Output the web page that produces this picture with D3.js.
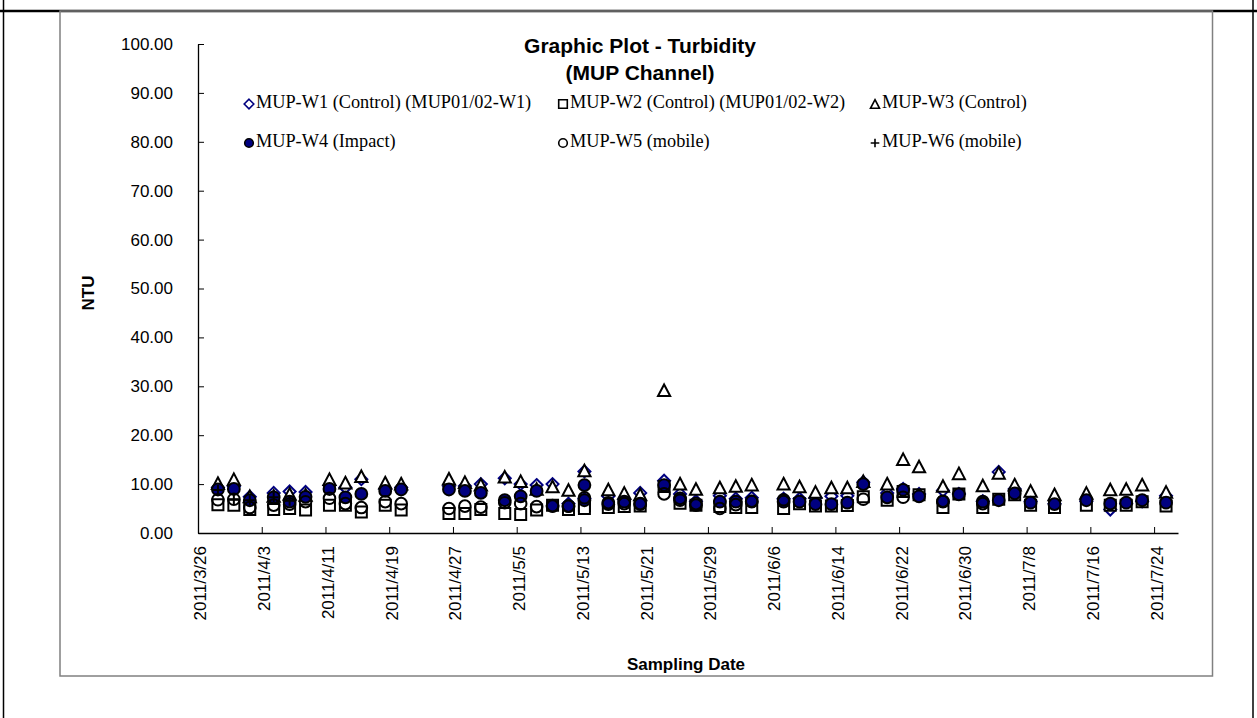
<!DOCTYPE html>
<html><head><meta charset="utf-8">
<script src="https://cdn.jsdelivr.net/npm/d3@7"></script>
<style>body{margin:0;background:#fff}svg{display:block}</style>
</head><body>
<svg id="c" width="1257" height="718"></svg>
<script>
// ---------- data ----------
const dates = ["2011-03-28","2011-03-30","2011-04-01","2011-04-04","2011-04-06","2011-04-08","2011-04-11","2011-04-13","2011-04-15","2011-04-18","2011-04-20","2011-04-26","2011-04-28","2011-04-30","2011-05-03","2011-05-05","2011-05-07","2011-05-09","2011-05-11","2011-05-13","2011-05-13","2011-05-16","2011-05-18","2011-05-20","2011-05-23","2011-05-25","2011-05-27","2011-05-30","2011-06-01","2011-06-03","2011-06-07","2011-06-09","2011-06-11","2011-06-13","2011-06-15","2011-06-17","2011-06-20","2011-06-22","2011-06-24","2011-06-27","2011-06-29","2011-07-02","2011-07-04","2011-07-06","2011-07-08","2011-07-11","2011-07-15","2011-07-18","2011-07-20","2011-07-22","2011-07-25"];
const w1 = [9.3,9.5,7.4,8.2,8.5,8.4,9.7,9.3,11.0,9.0,9.3,9.6,9.6,10.0,11.2,10.0,9.8,10.0,6.0,12.6,7.0,7.5,6.8,8.2,10.7,8.0,6.5,7.6,7.0,7.2,7.0,7.0,7.2,7.5,7.6,10.4,8.2,9.0,8.0,8.7,8.0,6.5,12.5,9.0,6.5,6.0,6.5,4.8,6.0,6.5,7.6];
const w2 = [5.8,5.7,4.8,4.8,5.0,4.7,5.7,5.7,4.3,5.7,4.7,4.0,4.0,4.8,4.0,3.8,4.7,5.7,4.8,5.6,5.0,5.2,5.4,5.5,9.5,6.1,5.7,5.4,5.2,5.2,5.0,6.0,5.5,5.5,5.6,7.4,6.7,8.5,7.8,5.2,8.0,5.2,6.9,7.8,5.7,5.2,5.7,5.7,5.7,6.4,5.5];
const w3 = [10.2,11.0,7.5,7.6,8.0,7.8,11.0,10.3,11.6,10.3,10.1,11.1,10.4,9.9,11.5,10.6,9.0,9.5,8.8,12.8,null,8.9,8.2,7.9,29.2,10.1,9.0,9.3,9.6,9.9,10.1,9.5,8.4,9.3,9.3,10.6,10.1,15.1,13.6,9.6,12.2,9.7,12.3,9.9,8.6,7.9,8.2,8.9,9.0,9.9,8.4];
const w4 = [8.9,9.0,6.7,7.3,6.4,7.4,9.0,7.3,8.0,8.6,8.9,8.9,8.6,8.2,6.7,7.5,8.6,5.5,5.5,9.8,6.7,5.9,6.4,5.9,9.8,7.1,5.7,6.4,6.4,6.4,6.4,6.4,5.9,5.9,6.2,10.0,7.3,8.8,7.5,6.4,7.9,6.4,6.7,8.1,6.2,5.9,6.7,6.0,6.2,6.7,6.2];
const w5 = [6.8,6.9,5.2,5.7,5.9,6.4,7.1,6.0,5.2,6.4,6.0,5.0,5.5,5.3,6.2,6.0,5.4,5.6,5.5,7.2,null,6.2,6.0,6.0,8.0,6.7,6.0,5.0,5.8,6.5,6.8,null,null,null,null,6.9,null,7.3,null,6.5,null,6.0,null,null,null,null,null,null,null,null,null];
const w6 = [8.8,6.9,6.7,7.3,6.6,null,null,null,null,null,null,null,null,null,null,null,null,null,null,null,null,null,null,null,null,null,null,null,null,null,null,null,null,null,null,null,null,null,null,null,null,null,null,null,null,null,null,null,null,null,null];
const seriesNames = ["MUP-W1 (Control) (MUP01/02-W1)","MUP-W2 (Control) (MUP01/02-W2)","MUP-W3 (Control)","MUP-W4 (Impact)","MUP-W5 (mobile)","MUP-W6 (mobile)"];
const yTicks = [0,10,20,30,40,50,60,70,80,90,100];
const xTickLabels = ["2011/3/26","2011/4/3","2011/4/11","2011/4/19","2011/4/27","2011/5/5","2011/5/13","2011/5/21","2011/5/29","2011/6/6","2011/6/14","2011/6/22","2011/6/30","2011/7/8","2011/7/16","2011/7/24"];
const titleLines = ["Graphic Plot - Turbidity","(MUP Channel)"];

// ---------- setup ----------
const svg = d3.select("#c");
const parse = d3.utcParse("%Y-%m-%d");
const parseTick = d3.utcParse("%Y/%-m/%-d");
const SANS = "'Liberation Sans', Arial, sans-serif";
const SERIF = "'Liberation Serif', 'Times New Roman', serif";

// outer frame lines
svg.append("line").attr("x1",0).attr("x2",1257).attr("y1",11).attr("y2",11).attr("stroke","#000").attr("stroke-width",2.5);
svg.append("line").attr("x1",3.5).attr("x2",3.5).attr("y1",0).attr("y2",718).attr("stroke","#000").attr("stroke-width",1.5);
svg.append("line").attr("x1",1253).attr("x2",1253).attr("y1",0).attr("y2",718).attr("stroke","#000").attr("stroke-width",1.5);
// chart area box
svg.append("rect").attr("x",60).attr("y",11).attr("width",1152.5).attr("height",665)
  .attr("fill","none").attr("stroke","#808080").attr("stroke-width",1.5);

const x = d3.scaleUtc().domain([parse("2011-03-26"), parse("2011-07-27")]).range([198,1178]);
const y = d3.scaleLinear().domain([0,100]).range([533,44]);
const halfDay = 12*3600*1000;
const px = d => x(new Date(parse(d).getTime()+halfDay));

// y axis
const ya = svg.append("g").attr("transform","translate(198,0)")
  .call(d3.axisLeft(y).tickValues(yTicks).tickSize(-6).tickSizeOuter(0).tickPadding(25).tickFormat(d3.format(".2f")));
ya.selectAll("text").attr("font-family",SANS).attr("font-size",17).attr("fill","#000");
ya.selectAll("line").attr("stroke","#000");
ya.select(".domain").attr("stroke","#000").attr("stroke-width",1.3);

// x axis
const xa = svg.append("g").attr("transform","translate(0,533)")
  .call(d3.axisBottom(x).tickValues(xTickLabels.map(parseTick)).tickSize(-6).tickSizeOuter(0)
    .tickFormat(d3.utcFormat("%Y/%-m/%-d")));
xa.selectAll("text").attr("font-family",SANS).attr("font-size",17).attr("fill","#000")
  .attr("transform","rotate(-90)").attr("x",-13).attr("y",2).attr("dy","0.35em").style("text-anchor","end");
xa.selectAll("line").attr("stroke","#000");
xa.select(".domain").attr("stroke","#000").attr("stroke-width",1.3);

// titles
svg.append("text").attr("x",640).attr("y",53).attr("text-anchor","middle").attr("font-family",SANS)
  .attr("font-weight","bold").attr("font-size",21).text(titleLines[0]);
svg.append("text").attr("x",640).attr("y",80).attr("text-anchor","middle").attr("font-family",SANS)
  .attr("font-weight","bold").attr("font-size",21).text(titleLines[1]);
svg.append("text").attr("transform","translate(94,293) rotate(-90)").attr("text-anchor","middle")
  .attr("font-family",SANS).attr("font-weight","bold").attr("font-size",17).text("NTU");
svg.append("text").attr("x",686).attr("y",670).attr("text-anchor","middle").attr("font-family",SANS)
  .attr("font-weight","bold").attr("font-size",17).text("Sampling Date");

// marker shapes
const shapes = [
  {path: r => `M0,${-r}L${r},0L0,${r}L${-r},0Z`, fill:"#fff", stroke:"#000080"},
  {path: r => `M${-r},${-r}H${r}V${r}H${-r}Z`, fill:"#fff", stroke:"#000"},
  {path: r => `M0,${-r}L${r*1.05},${r}L${-r*1.05},${r}Z`, fill:"#fff", stroke:"#000"},
  {path: r => `M${r},0A${r},${r} 0 1,1 ${-r},0A${r},${r} 0 1,1 ${r},0Z`, fill:"#000080", stroke:"#000"},
  {path: r => `M${r},0A${r},${r} 0 1,1 ${-r},0A${r},${r} 0 1,1 ${r},0Z`, fill:"none", stroke:"#000"},
  {path: r => `M${-r},0H${r}M0,${-r}V${r}`, fill:"none", stroke:"#000"}
];
const seriesVals = [w1,w2,w3,w4,w5,w6];
const markerR = [6.0,5.5,5.8,5.9,5.8,5.0];

const plot = svg.append("g");
seriesVals.forEach((vals,si)=>{
  const pts = dates.map((d,i)=>({d, v:vals[i]})).filter(p=>p.v!=null);
  plot.append("g").selectAll("path").data(pts).join("path")
    .attr("transform",p=>`translate(${px(p.d)},${y(p.v)})`)
    .attr("d",shapes[si].path(markerR[si]))
    .attr("fill",shapes[si].fill).attr("stroke",shapes[si].stroke).attr("stroke-width",2);
});

// legend
const legX = [249,563,875], legY = [104,143];
seriesNames.forEach((name,i)=>{
  const cx = legX[i%3], cy = legY[Math.floor(i/3)];
  const g = svg.append("g");
  g.append("path").attr("transform",`translate(${cx},${cy})`).attr("d",shapes[i].path(i===0?4.8:4.3))
    .attr("fill",shapes[i].fill).attr("stroke",shapes[i].stroke).attr("stroke-width",1.6);
  g.append("text").attr("x",cx+7).attr("y",cy+4).attr("font-family",SERIF).attr("font-size",18.3).text(name);
});
</script>
</body></html>
